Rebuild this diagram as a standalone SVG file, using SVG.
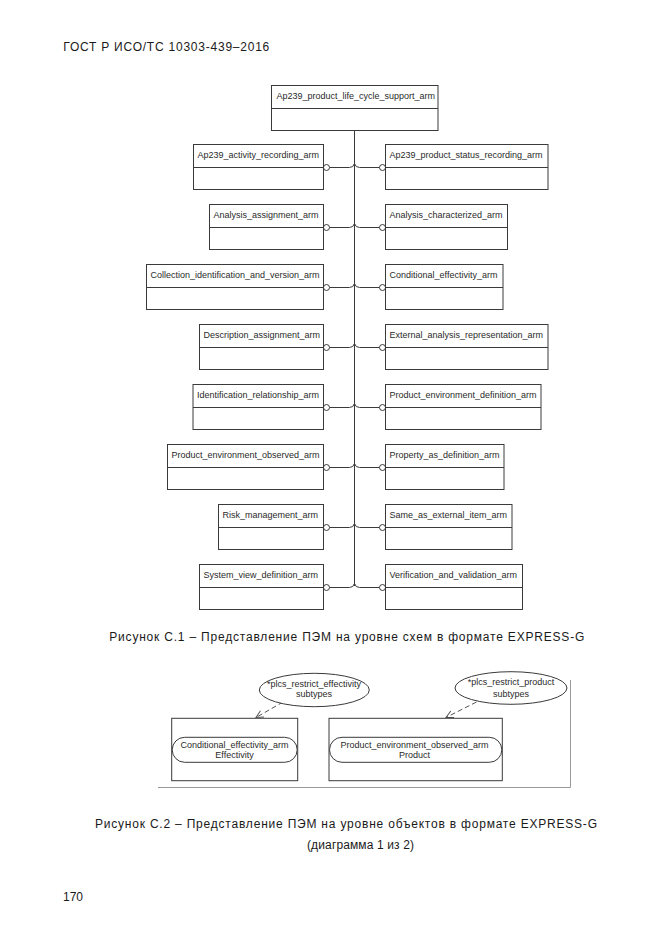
<svg xmlns="http://www.w3.org/2000/svg" width="661" height="935" viewBox="0 0 661 935">
<style>
.bg{fill:#fff}
.box{fill:#fff;stroke:#3a3a3a;stroke-width:1}
.div{stroke:#3a3a3a;stroke-width:1}
.t{font-family:"Liberation Sans",Arial,sans-serif;font-size:9px;fill:#2a2a2a}
.tc{font-family:"Liberation Sans",Arial,sans-serif;font-size:9px;fill:#2a2a2a;text-anchor:middle}
.cap{font-family:"Liberation Sans",Arial,sans-serif;font-size:12px;fill:#1a1a1a}
.con{fill:none;stroke:#3a3a3a;stroke-width:1}
.dot{fill:#fff;stroke:#3a3a3a;stroke-width:1}
.dash{fill:none;stroke:#555;stroke-width:1;stroke-dasharray:5,3}
.frame{fill:none;stroke:#999;stroke-width:1}
</style>
<defs>
<marker id="arr" viewBox="0 0 10 10" refX="9" refY="5" markerWidth="9" markerHeight="9" orient="auto" markerUnits="userSpaceOnUse">
<path d="M1,1 L9,5 L1,9" fill="none" stroke="#555" stroke-width="1.1"/>
</marker>
</defs>
<rect class="bg" x="0" y="0" width="661" height="935"/>
<text class="cap" x="63.3" y="50.7" font-size="12.5" textLength="206" lengthAdjust="spacing">ГОСТ Р ИСО/ТС 10303-439–2016</text>

<g id="connectors">
<path class="con" d="M354.5,130 V586"/>
<path class="con" d="M329.5,167.5 H349.5 Q353.5,167.5 354.5,163.5 Q355.5,167.5 359.5,167.5 H379.5"/>
<path class="con" d="M329.5,227.5 H349.5 Q353.5,227.5 354.5,223.5 Q355.5,227.5 359.5,227.5 H379.5"/>
<path class="con" d="M329.5,287.5 H349.5 Q353.5,287.5 354.5,283.5 Q355.5,287.5 359.5,287.5 H379.5"/>
<path class="con" d="M329.5,347.5 H349.5 Q353.5,347.5 354.5,343.5 Q355.5,347.5 359.5,347.5 H379.5"/>
<path class="con" d="M329.5,407.5 H349.5 Q353.5,407.5 354.5,403.5 Q355.5,407.5 359.5,407.5 H379.5"/>
<path class="con" d="M329.5,467.5 H349.5 Q353.5,467.5 354.5,463.5 Q355.5,467.5 359.5,467.5 H379.5"/>
<path class="con" d="M329.5,527.5 H349.5 Q353.5,527.5 354.5,523.5 Q355.5,527.5 359.5,527.5 H379.5"/>
<path class="con" d="M329.5,587.5 H349.5 Q353.5,587.5 354.5,583.5 Q355.5,587.5 359.5,587.5 H379.5"/>
<circle class="dot" cx="326.5" cy="167.5" r="3"/><circle class="dot" cx="382.5" cy="167.5" r="3"/>
<circle class="dot" cx="326.5" cy="227.5" r="3"/><circle class="dot" cx="382.5" cy="227.5" r="3"/>
<circle class="dot" cx="326.5" cy="287.5" r="3"/><circle class="dot" cx="382.5" cy="287.5" r="3"/>
<circle class="dot" cx="326.5" cy="347.5" r="3"/><circle class="dot" cx="382.5" cy="347.5" r="3"/>
<circle class="dot" cx="326.5" cy="407.5" r="3"/><circle class="dot" cx="382.5" cy="407.5" r="3"/>
<circle class="dot" cx="326.5" cy="467.5" r="3"/><circle class="dot" cx="382.5" cy="467.5" r="3"/>
<circle class="dot" cx="326.5" cy="527.5" r="3"/><circle class="dot" cx="382.5" cy="527.5" r="3"/>
<circle class="dot" cx="326.5" cy="587.5" r="3"/><circle class="dot" cx="382.5" cy="587.5" r="3"/>
<path class="dash" d="M283,702 L256,717.5" marker-end="url(#arr)"/>
<path class="dash" d="M476.5,702 L446,717.5" marker-end="url(#arr)"/>
</g>

<g id="n_root"><rect class="box" x="271.5" y="85.5" width="166.5" height="45"/><line class="div" x1="271.5" y1="108.5" x2="438" y2="108.5"/><text class="t" x="276.5" y="99">Ap239_product_life_cycle_support_arm</text></g>

<g id="n_l1"><rect class="box" x="193.5" y="144.5" width="130" height="45"/><line class="div" x1="193.5" y1="167.5" x2="323.5" y2="167.5"/><text class="t" x="197.5" y="158">Ap239_activity_recording_arm</text></g>
<g id="n_r1"><rect class="box" x="385.5" y="144.5" width="162.5" height="45"/><line class="div" x1="385.5" y1="167.5" x2="548" y2="167.5"/><text class="t" x="389.5" y="158">Ap239_product_status_recording_arm</text></g>

<g id="n_l2"><rect class="box" x="209.5" y="204.5" width="114" height="45"/><line class="div" x1="209.5" y1="227.5" x2="323.5" y2="227.5"/><text class="t" x="213.5" y="218">Analysis_assignment_arm</text></g>
<g id="n_r2"><rect class="box" x="385.5" y="204.5" width="122" height="45"/><line class="div" x1="385.5" y1="227.5" x2="507.5" y2="227.5"/><text class="t" x="389.5" y="218">Analysis_characterized_arm</text></g>

<g id="n_l3"><rect class="box" x="146.5" y="264.5" width="177" height="45"/><line class="div" x1="146.5" y1="287.5" x2="323.5" y2="287.5"/><text class="t" x="150.5" y="278">Collection_identification_and_version_arm</text></g>
<g id="n_r3"><rect class="box" x="385.5" y="264.5" width="117.5" height="45"/><line class="div" x1="385.5" y1="287.5" x2="503" y2="287.5"/><text class="t" x="389.5" y="278">Conditional_effectivity_arm</text></g>

<g id="n_l4"><rect class="box" x="199.5" y="324.5" width="124" height="45"/><line class="div" x1="199.5" y1="347.5" x2="323.5" y2="347.5"/><text class="t" x="203.5" y="338">Description_assignment_arm</text></g>
<g id="n_r4"><rect class="box" x="385.5" y="324.5" width="162.5" height="45"/><line class="div" x1="385.5" y1="347.5" x2="548" y2="347.5"/><text class="t" x="389.5" y="338">External_analysis_representation_arm</text></g>

<g id="n_l5"><rect class="box" x="193" y="384.5" width="130.5" height="45"/><line class="div" x1="193" y1="407.5" x2="323.5" y2="407.5"/><text class="t" x="197" y="398">Identification_relationship_arm</text></g>
<g id="n_r5"><rect class="box" x="385.5" y="384.5" width="155.5" height="45"/><line class="div" x1="385.5" y1="407.5" x2="541" y2="407.5"/><text class="t" x="389.5" y="398">Product_environment_definition_arm</text></g>

<g id="n_l6"><rect class="box" x="167.5" y="444.5" width="156" height="45"/><line class="div" x1="167.5" y1="467.5" x2="323.5" y2="467.5"/><text class="t" x="171.5" y="458">Product_environment_observed_arm</text></g>
<g id="n_r6"><rect class="box" x="385.5" y="444.5" width="118.5" height="45"/><line class="div" x1="385.5" y1="467.5" x2="504" y2="467.5"/><text class="t" x="389.5" y="458">Property_as_definition_arm</text></g>

<g id="n_l7"><rect class="box" x="218.5" y="504.5" width="105" height="45"/><line class="div" x1="218.5" y1="527.5" x2="323.5" y2="527.5"/><text class="t" x="222.5" y="518">Risk_management_arm</text></g>
<g id="n_r7"><rect class="box" x="385.5" y="504.5" width="126.5" height="45"/><line class="div" x1="385.5" y1="527.5" x2="512" y2="527.5"/><text class="t" x="389.5" y="518">Same_as_external_item_arm</text></g>

<g id="n_l8"><rect class="box" x="199.5" y="564.5" width="124" height="45"/><line class="div" x1="199.5" y1="587.5" x2="323.5" y2="587.5"/><text class="t" x="203.5" y="578">System_view_definition_arm</text></g>
<g id="n_r8"><rect class="box" x="385.5" y="564.5" width="137" height="45"/><line class="div" x1="385.5" y1="587.5" x2="522.5" y2="587.5"/><text class="t" x="389.5" y="578">Verification_and_validation_arm</text></g>

<text class="cap" x="109.3" y="641.3" textLength="475" lengthAdjust="spacing">Рисунок  С.1 – Представление ПЭМ на уровне схем в формате EXPRESS-G</text>

<path class="frame" d="M570.5,680 V787.5 H158"/>

<g id="e_eff"><ellipse class="box" cx="314.3" cy="690" rx="55" ry="16.7"/><text class="tc" x="314" y="686.5">*plcs_restrict_effectivity</text><text class="tc" x="314" y="696.5">subtypes</text></g>
<g id="e_prod"><ellipse class="box" cx="511" cy="688" rx="56" ry="16.3"/><text class="tc" x="511" y="685">*plcs_restrict_product</text><text class="tc" x="511" y="697">subtypes</text></g>

<g id="b_eff"><rect class="box" x="171.7" y="718.3" width="126" height="62.4"/><rect class="box" x="172.2" y="737.3" width="125" height="25" rx="12.5" ry="12.5"/><text class="tc" x="234.5" y="747.5">Conditional_effectivity_arm</text><text class="tc" x="234.5" y="757.8">Effectivity</text></g>
<g id="b_prod"><rect class="box" x="329" y="718.3" width="173.3" height="62.4"/><rect class="box" x="329.5" y="737.3" width="172.3" height="25" rx="12.5" ry="12.5"/><text class="tc" x="414.5" y="747.5">Product_environment_observed_arm</text><text class="tc" x="414.5" y="757.8">Product</text></g>

<text class="cap" x="95" y="828" textLength="502" lengthAdjust="spacing">Рисунок  С.2 – Представление ПЭМ на уровне объектов в формате EXPRESS-G</text>
<text class="cap" x="307" y="849" textLength="107" lengthAdjust="spacing">(диаграмма 1 из 2)</text>
<text class="cap" x="63" y="901">170</text>
</svg>
